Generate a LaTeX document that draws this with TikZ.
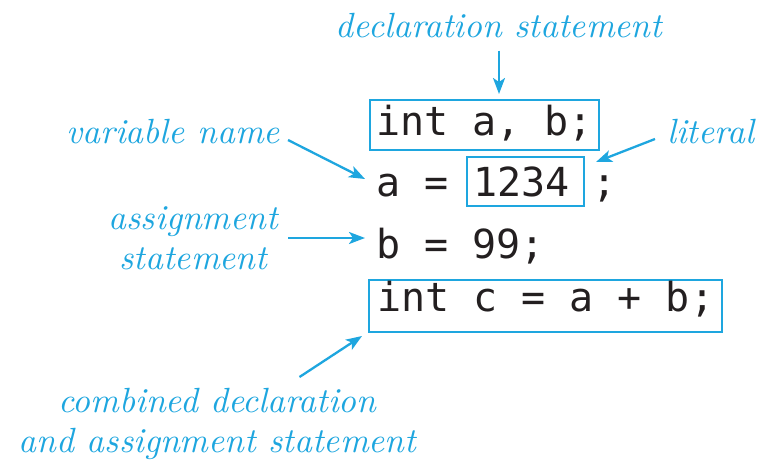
\documentclass[tikz,border=0pt]{standalone}
\usepackage{fontspec}
\newfontfamily\codefont{DejaVu Sans Mono}
\newfontfamily\labfont{lmroman10-italic.otf}
\usetikzlibrary{arrows.meta}
\definecolor{CalloutCyan}{HTML}{1EA6DF}
\definecolor{Ink}{HTML}{231F20}
\tikzset{
  code/.style={font=\codefont\fontsize{40}{48}\selectfont, text=Ink, inner sep=0pt},
  codebox/.style={code, draw=CalloutCyan, line width=2pt, inner xsep=6pt, inner ysep=5pt, text height=30pt, text depth=10pt},
  lab/.style={font=\labfont\fontsize{35}{40}\selectfont, text=CalloutCyan, inner sep=0pt, align=center},
  callout/.style={-{Stealth[length=16pt,width=12pt,inset=4pt]}, line width=2.3pt, draw=CalloutCyan},
}
\begin{document}
\begin{tikzpicture}[x=1pt, y=-1pt]
    \useasboundingbox (0,0) rectangle (759,461);
    % code lines
    \node[codebox, anchor=base west] (decl) at (369, 135) {int a, b;};
    \node[code, anchor=base west] (aeq) at (376, 196) {a =};
    \node[codebox, anchor=base west, text width=105pt, align=left, text height=34pt, text depth=5pt] (lit) at (466, 196) {1234};
    \node[code, anchor=base west] (semi) at ([xshift=7pt]lit.base east) {;};
    \node[code, anchor=base west] (bline) at (376, 258) {b = 99;};
    \node[codebox, anchor=base west, inner xsep=8pt, text height=26pt, text depth=16pt] (comb) at (368, 311) {int c = a + b;};
    % labels
    \node[lab, anchor=base] (declab) at (499, 37) {declaration statement};
    \node[lab, anchor=base east] (varlab) at (280, 143) {variable name};
    \node[lab, anchor=base west] (litlab) at (667, 143) {literal};
    \node[lab, anchor=east] (asglab) at (278, 238) {assignment\\ statement};
    \node[lab, anchor=north] (comblab) at (217.5, 388) {combined declaration\\ and assignment statement};
    % arrows
    \draw[callout] ([yshift=-13pt]declab.south) -- (declab.south |- decl.north) [shorten >=5pt];
    \draw[callout] ([xshift=8pt, yshift=3pt]varlab.base east) -- ([xshift=-11pt, yshift=17pt]aeq.base west);
    \draw[callout] ([xshift=-12pt, yshift=4pt]litlab.base west) -- ([xshift=11pt, yshift=-6pt]lit.north east);
    \draw[callout, shorten >=11pt] ([xshift=10pt]asglab.east) -- (asglab.east -| bline.west);
    \draw[callout] ([xshift=82pt, yshift=11pt]comblab.north) -- ([xshift=-6pt, yshift=-3pt]comb.south west);
  \end{tikzpicture}
\end{document}
